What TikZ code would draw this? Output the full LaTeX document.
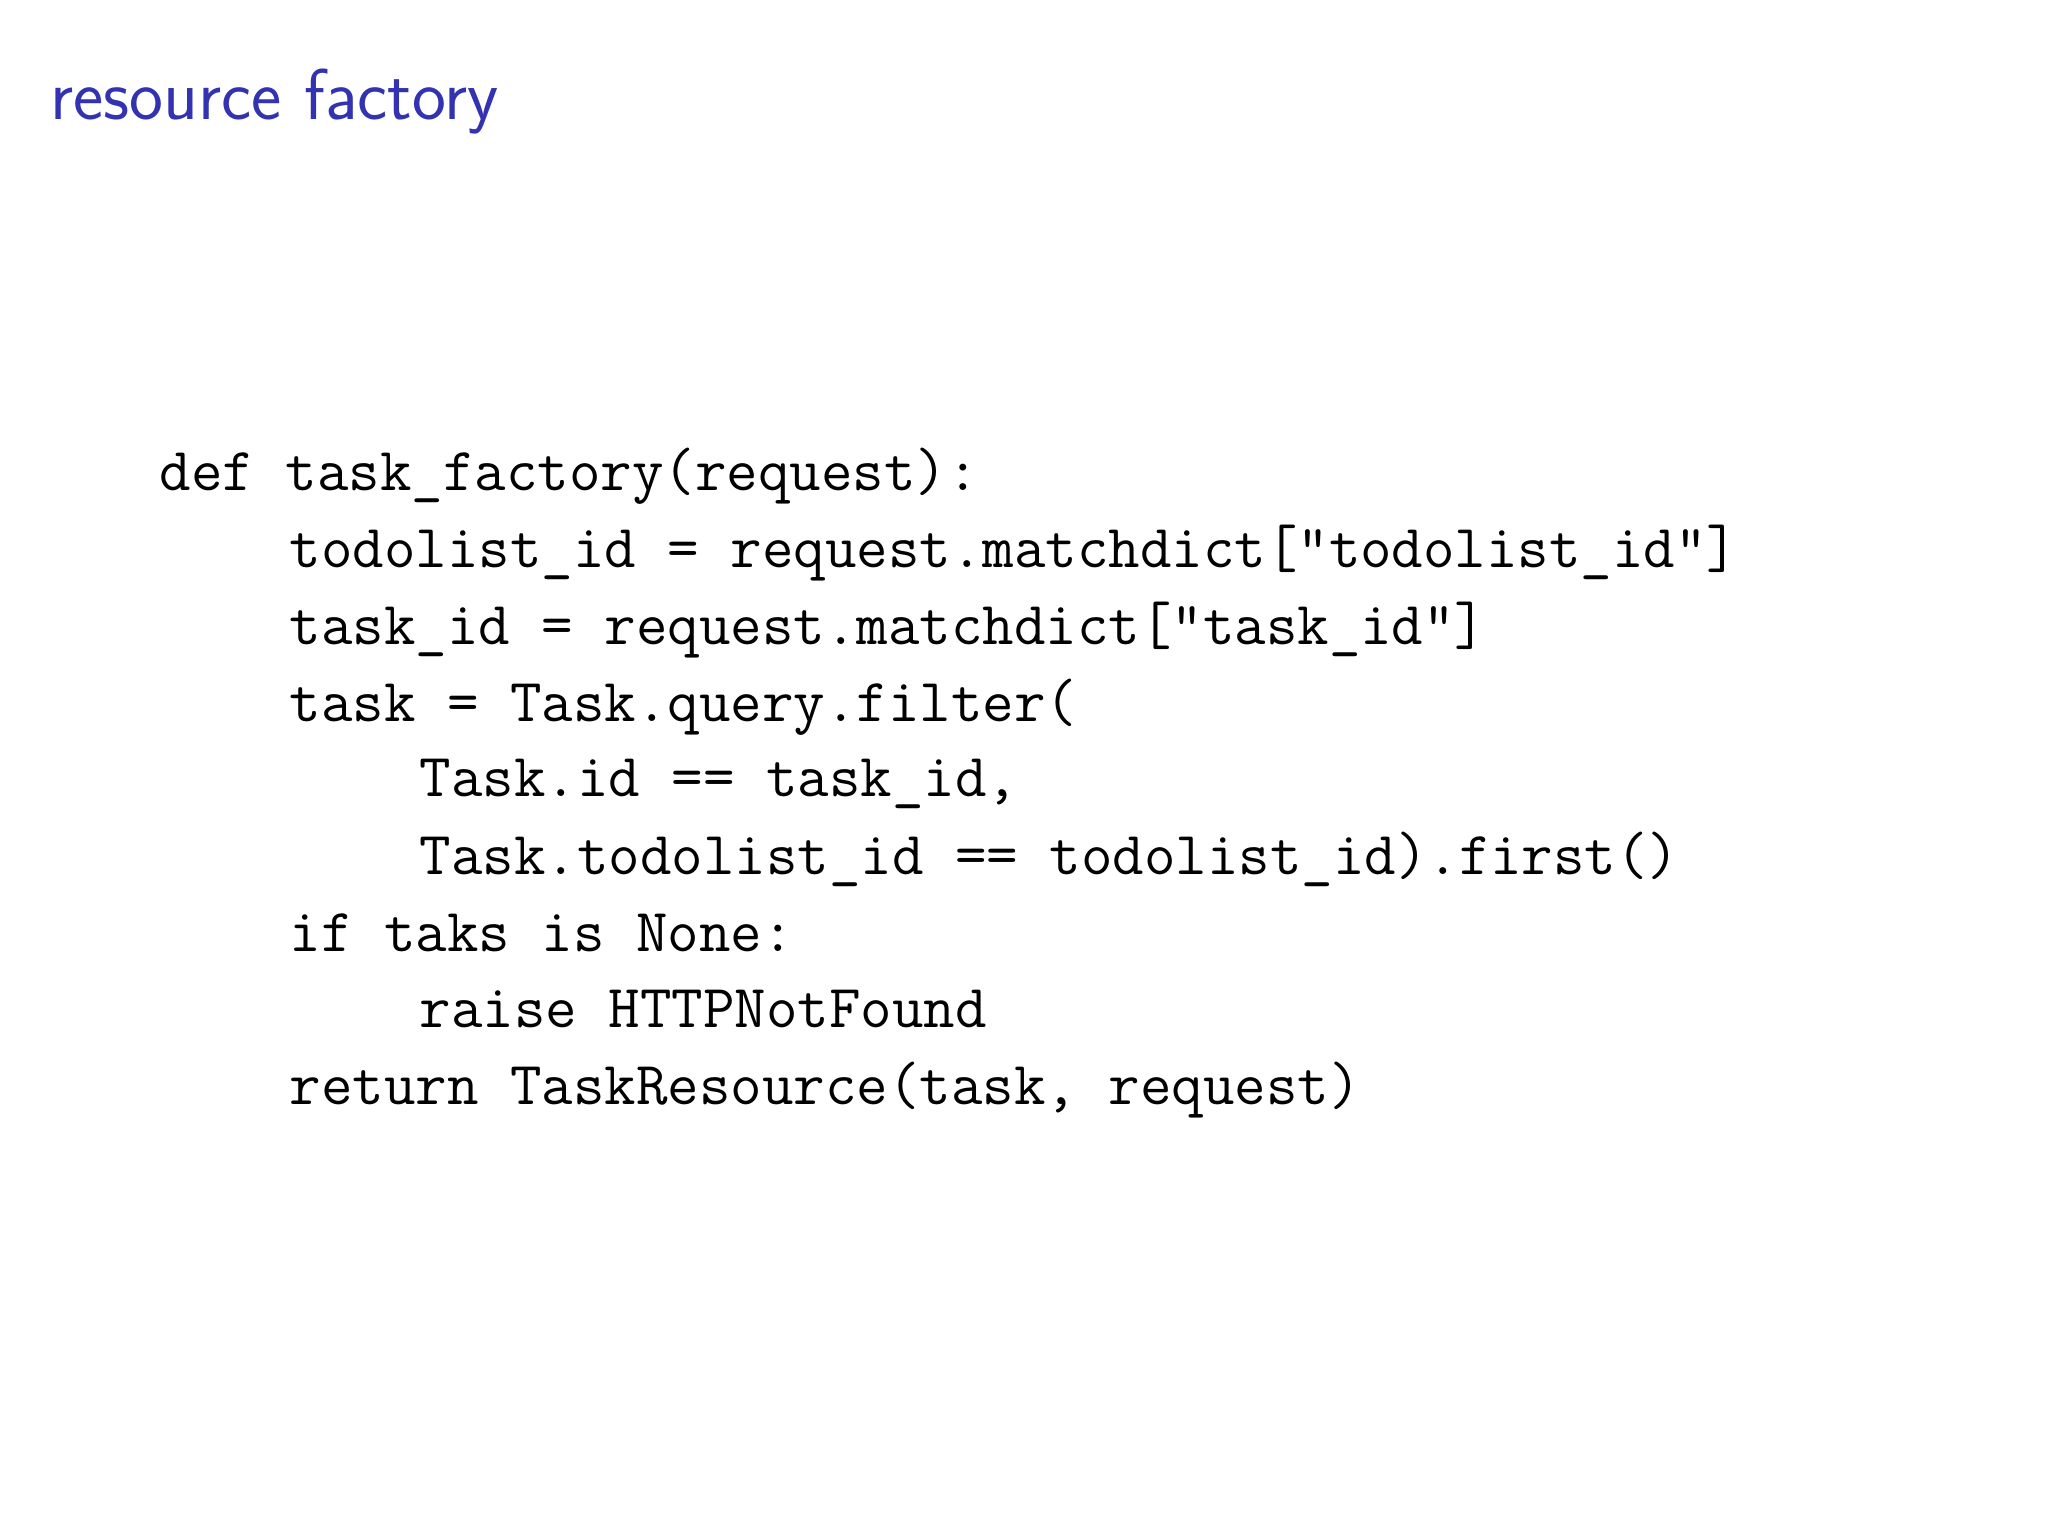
\documentclass[tikz,border=0pt]{standalone}
\definecolor{titleblue}{RGB}{51,51,178}
\tikzset{code/.style={anchor=base west,inner sep=0pt,font=\fontsize{17.4pt}{20pt}\ttfamily}}
\begin{document}
\begin{tikzpicture}
\useasboundingbox (0,0) rectangle (20.48,-15.36);
\node[anchor=base west,inner sep=0pt,text=titleblue,font=\fontsize{20.5pt}{24pt}\sffamily] (title) at (0.50,-1.20) {resource factory};
\def\xa{1.59}\def\xb{2.89}\def\xc{4.19}
\node[code] (l1) at (\xa,-4.91) {def task\_factory(request):};
\node[code] (l2) at (\xb,-5.68) {todolist\_id = request.matchdict["todolist\_id"]};
\node[code] (l3) at (\xb,-6.44) {task\_id = request.matchdict["task\_id"]};
\node[code] (l4) at (\xb,-7.21) {task = Task.query.filter(};
\node[code] (l5) at (\xc,-7.97) {Task.id == task\_id,};
\node[code] (l6) at (\xc,-8.74) {Task.todolist\_id == todolist\_id).first()};
\node[code] (l7) at (\xb,-9.51) {if taks is None:};
\node[code] (l8) at (\xc,-10.27) {raise HTTPNotFound};
\node[code] (l9) at (\xb,-11.04) {return TaskResource(task, request)};
\end{tikzpicture}
\end{document}
